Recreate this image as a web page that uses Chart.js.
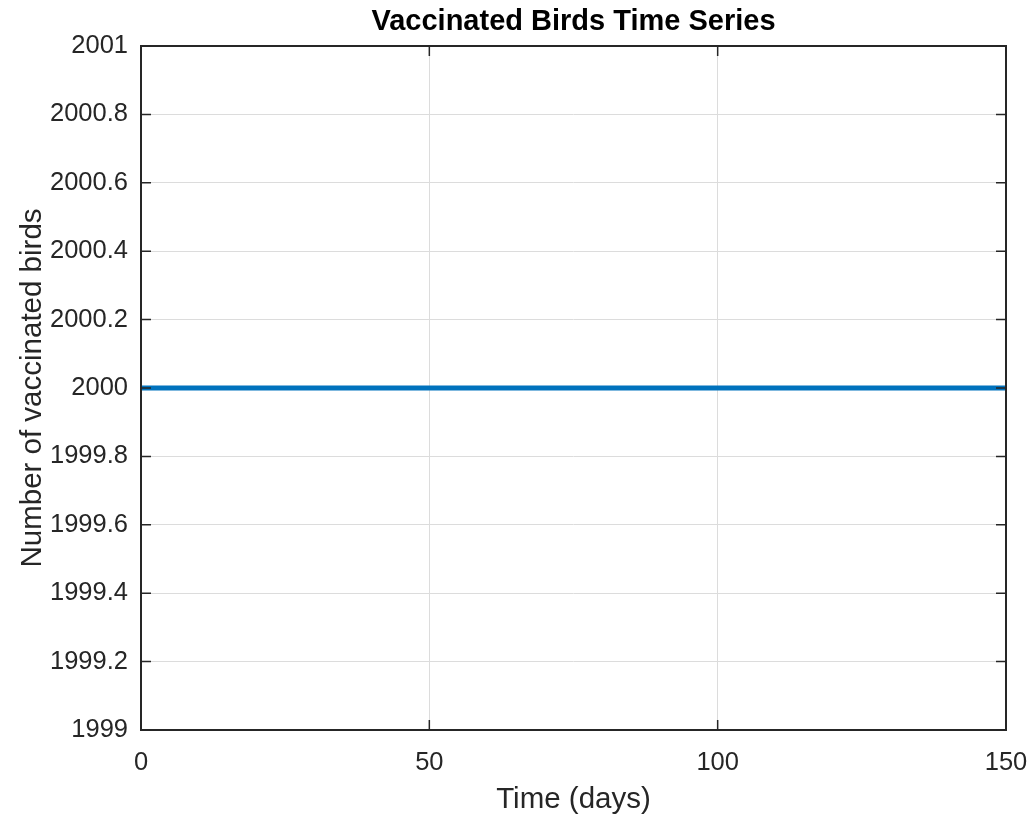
<!DOCTYPE html>
<html>
<head>
<meta charset="utf-8">
<script src="https://cdn.jsdelivr.net/npm/chart.js@4.4.1/dist/chart.umd.min.js"></script>
<style>
  html, body { margin: 0; padding: 0; background: #fff; }
  #wrap { width: 1032px; height: 815px; }
</style>
</head>
<body>
<div id="wrap"><canvas id="vacc-chart" width="1032" height="815"></canvas></div>
<script>
// data
const timeDays = [0, 25, 50, 75, 100, 125, 150];
const vaccinatedBirds = [2000, 2000, 2000, 2000, 2000, 2000, 2000];
const xTickValues = [0, 50, 100, 150];
const yTickValues = [1999, 1999.2, 1999.4, 1999.6, 1999.8, 2000, 2000.2, 2000.4, 2000.6, 2000.8, 2001];

const chartTitle = 'Vaccinated Birds Time Series';
const axisColor = '#262626';
const fontFam = '"Liberation Sans", Arial, Helvetica, sans-serif';

// matlab style box, inward ticks and title
const matlabBox = {
    id: 'matlabBox',
    afterDraw(chart) {
        const { ctx, chartArea: a, scales } = chart;
        ctx.save();
        ctx.strokeStyle = axisColor;
        ctx.lineWidth = 2;
        ctx.strokeRect(a.left, a.top, a.right - a.left, a.bottom - a.top);

        ctx.lineWidth = 1.5;
        ctx.beginPath();
        xTickValues.forEach(v => {
            const px = scales.x.getPixelForValue(v);
            ctx.moveTo(px, a.bottom); ctx.lineTo(px, a.bottom - 10);
            ctx.moveTo(px, a.top); ctx.lineTo(px, a.top + 10);
        });
        yTickValues.forEach(v => {
            const py = scales.y.getPixelForValue(v);
            ctx.moveTo(a.left, py); ctx.lineTo(a.left + 10, py);
            ctx.moveTo(a.right, py); ctx.lineTo(a.right - 10, py);
        });
        ctx.stroke();

        ctx.fillStyle = '#000';
        ctx.font = 'bold 29px ' + fontFam;
        ctx.textAlign = 'center';
        ctx.textBaseline = 'alphabetic';
        ctx.fillText(chartTitle, (a.left + a.right) / 2, 30);
        ctx.restore();
    }
};

const myChart = new Chart(document.getElementById('vacc-chart'), {
    type: 'line',
    data: {
        datasets: [{
            label: 'Vaccinated',
            data: timeDays.map((t, i) => ({ x: t, y: vaccinatedBirds[i] })),
            borderColor: '#0072BD',
            backgroundColor: '#0072BD',
            borderWidth: 5,
            pointRadius: 0,
            tension: 0
        }]
    },
    options: {
        responsive: false,
        animation: false,
        layout: { padding: { top: 46, right: 26, left: 0, bottom: 0 } },
        plugins: {
            legend: { display: false },
            title: { display: false },
            tooltip: { enabled: false }
        },
        scales: {
            x: {
                type: 'linear',
                min: 0,
                max: 150,
                afterFit: s => { s.height = 85; s.paddingRight = 0; s.paddingLeft = 0; },
                afterBuildTicks: s => { s.ticks = xTickValues.map(v => ({ value: v })); },
                grid: { color: '#dcdcdc', lineWidth: 1, drawTicks: false },
                border: { display: false },
                ticks: {
                    color: axisColor,
                    padding: 18,
                    maxRotation: 0,
                    font: { family: fontFam, size: 25.5 },
                    callback: v => String(v)
                },
                title: {
                    display: true,
                    text: 'Time (days)',
                    color: axisColor,
                    font: { family: fontFam, size: 29.5, lineHeight: 1 },
                    padding: { top: 0, bottom: 0 }
                }
            },
            y: {
                min: 1999,
                max: 2001,
                afterFit: s => { s.width = 141; },
                afterBuildTicks: s => { s.ticks = yTickValues.map(v => ({ value: v })); },
                grid: { color: '#dcdcdc', lineWidth: 1, drawTicks: false },
                border: { display: false },
                ticks: {
                    color: axisColor,
                    padding: 13,
                    font: { family: fontFam, size: 25.5 },
                    callback: v => String(Number(v.toFixed(1)))
                },
                title: {
                    display: true,
                    text: 'Number of vaccinated birds',
                    color: axisColor,
                    font: { family: fontFam, size: 29.5, lineHeight: 1.2 },
                    padding: { top: 15, bottom: 0 }
                }
            }
        }
    },
    plugins: [matlabBox]
});
</script>
</body>
</html>
